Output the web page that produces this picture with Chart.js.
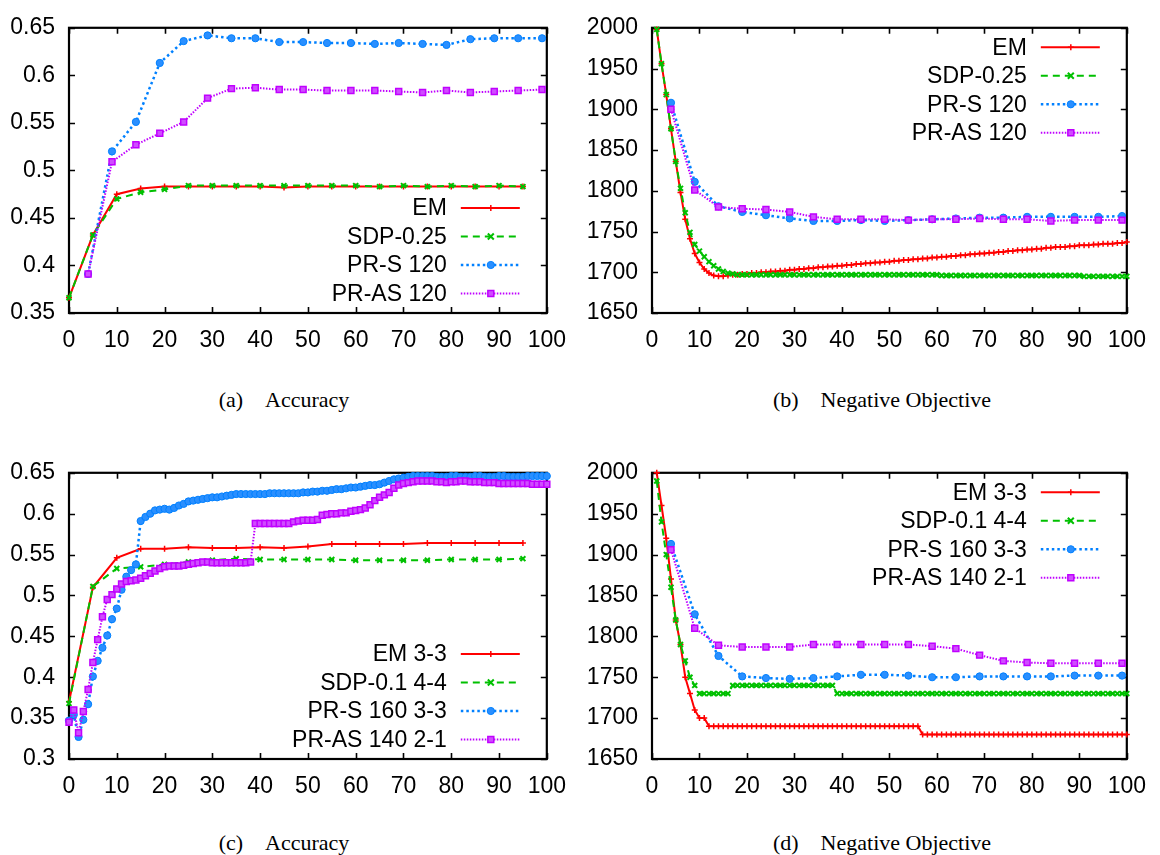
<!DOCTYPE html>
<html><head><meta charset="utf-8">
<script src="https://cdn.jsdelivr.net/npm/chart.js@4/dist/chart.umd.min.js"></script>
<style>
html,body{margin:0;padding:0;background:#fff;width:1160px;height:855px;overflow:hidden;}
.box{position:absolute;width:580px;height:380px;}
.cap{position:absolute;font-family:"Liberation Serif","Times New Roman",serif;font-size:22px;white-space:pre;transform:translate(-50%,-50%);color:#000;}
.cap span{margin-right:22px;}
</style></head><body>
<div class="box" style="left:0;top:0"><canvas id="ca" width="580" height="380"></canvas></div>
<div class="box" style="left:580px;top:0"><canvas id="cb" width="580" height="380"></canvas></div>
<div class="box" style="left:0;top:445px"><canvas id="cc" width="580" height="380"></canvas></div>
<div class="box" style="left:580px;top:445px"><canvas id="cd" width="580" height="380"></canvas></div>
<div class="cap" style="left:284px;top:400px"><span>(a)</span>Accuracy</div>
<div class="cap" style="left:882px;top:400px"><span>(b)</span>Negative Objective</div>
<div class="cap" style="left:284px;top:843px"><span>(c)</span>Accuracy</div>
<div class="cap" style="left:882px;top:843px"><span>(d)</span>Negative Objective</div>
<script>
// ---------- iteration positions ----------
const every5from0 = [0,5,10,15,20,25,30,35,40,45,50,55,60,65,70,75,80,85,90,95];
const every5from4 = [4,9,14,19,24,29,34,39,44,49,54,59,64,69,74,79,84,89,94,99];
const iters1to100 = [1,2,3,4,5,6,7,8,9,10,11,12,13,14,15,16,17,18,19,20,21,22,23,24,25,26,27,28,29,30,31,32,33,34,35,36,37,38,39,40,41,42,43,44,45,46,47,48,49,50,51,52,53,54,55,56,57,58,59,60,61,62,63,64,65,66,67,68,69,70,71,72,73,74,75,76,77,78,79,80,81,82,83,84,85,86,87,88,89,90,91,92,93,94,95,96,97,98,99,100];
const iters0to100 = [0,1,2,3,4,5,6,7,8,9,10,11,12,13,14,15,16,17,18,19,20,21,22,23,24,25,26,27,28,29,30,31,32,33,34,35,36,37,38,39,40,41,42,43,44,45,46,47,48,49,50,51,52,53,54,55,56,57,58,59,60,61,62,63,64,65,66,67,68,69,70,71,72,73,74,75,76,77,78,79,80,81,82,83,84,85,86,87,88,89,90,91,92,93,94,95,96,97,98,99,100];

// ---------- tick labels ----------
const xTicks = [0,10,20,30,40,50,60,70,80,90,100];
const yTicksAccA = [0.35,0.4,0.45,0.5,0.55,0.6,0.65];
const yTicksAccC = [0.3,0.35,0.4,0.45,0.5,0.55,0.6,0.65];
const yTicksObj = [1650,1700,1750,1800,1850,1900,1950,2000];

// ---------- panel (a) Accuracy ----------
const aEM   = [0.366,0.432,0.475,0.481,0.483,0.483,0.483,0.483,0.483,0.482,0.483,0.483,0.483,0.483,0.483,0.483,0.483,0.483,0.483,0.483];
const aSDP  = [0.366,0.432,0.470,0.477,0.480,0.484,0.484,0.484,0.484,0.484,0.484,0.484,0.484,0.483,0.484,0.483,0.484,0.483,0.484,0.483];
const aPRS  = [0.391,0.520,0.551,0.613,0.636,0.642,0.639,0.639,0.635,0.635,0.634,0.634,0.633,0.634,0.633,0.632,0.638,0.639,0.639,0.639];
const aPRAS = [0.391,0.509,0.527,0.539,0.551,0.576,0.586,0.587,0.585,0.585,0.584,0.584,0.584,0.583,0.582,0.584,0.582,0.583,0.584,0.585];

// ---------- panel (b) Negative Objective ----------
const bEM = [1998,1956,1918,1876,1836,1798,1765,1741,1723,1712,1704,1699,1696,1695,1695,1696,1697,1697,1698,1698,
  1699,1699,1700,1700,1701,1701,1702,1702,1703,1703,1704,1704,1705,1705,1706,1706,1707,1707,1708,1708,
  1709,1709,1710,1710,1711,1711,1712,1712,1713,1713,1714,1714,1715,1715,1716,1716,1717,1717,1718,1718,
  1719,1719,1720,1720,1721,1721,1722,1722,1723,1723,1724,1724,1725,1725,1726,1726,1727,1727,1728,1728,
  1729,1729,1730,1730,1731,1731,1731,1732,1732,1733,1733,1733,1734,1734,1735,1735,1735,1736,1736,1737];
const bSDP = [1998,1956,1918,1876,1836,1803,1773,1749,1734,1726,1719,1713,1708,1704,1701,1699,1698,1697,1697,1697,
  1697,1697,1697,1697,1697,1697,1697,1697,1697,1697,1697,1697,1697,1697,1697,1697,1697,1697,1697,1697,
  1697,1697,1697,1697,1697,1697,1697,1697,1697,1697,1697,1697,1697,1697,1697,1697,1697,1697,1697,1697,
  1696,1696,1696,1696,1696,1696,1696,1696,1696,1696,1696,1696,1696,1696,1696,1696,1696,1696,1696,1696,
  1696,1696,1696,1696,1696,1696,1696,1696,1696,1696,1695,1695,1695,1695,1695,1695,1695,1695,1695,1695];
const bPRS  = [1908,1811,1781,1774,1770,1766,1763,1763,1764,1763,1764,1765,1766,1767,1767,1768,1768,1768,1768,1769];
const bPRAS = [1900,1801,1780,1778,1777,1774,1768,1765,1765,1765,1764,1765,1765,1766,1765,1765,1763,1764,1764,1764];

// ---------- panel (c) Accuracy ----------
const cEM  = [0.370,0.510,0.546,0.557,0.557,0.559,0.558,0.558,0.559,0.558,0.560,0.563,0.563,0.563,0.563,0.564,0.564,0.564,0.564,0.564];
const cSDP = [0.368,0.511,0.533,0.535,0.538,0.541,0.543,0.545,0.544,0.544,0.544,0.544,0.543,0.543,0.543,0.543,0.544,0.544,0.544,0.545];
const cPRS = [0.347,0.354,0.327,0.348,0.367,0.401,0.420,0.436,0.451,0.471,
  0.484,0.507,0.523,0.531,0.538,0.591,0.596,0.600,0.604,0.605,
  0.606,0.605,0.607,0.610,0.612,0.615,0.616,0.617,0.618,0.619,
  0.620,0.620,0.621,0.622,0.623,0.624,0.624,0.624,0.624,0.624,
  0.624,0.624,0.625,0.625,0.625,0.625,0.625,0.625,0.625,0.626,
  0.626,0.627,0.627,0.628,0.628,0.629,0.630,0.630,0.631,0.632,
  0.632,0.633,0.634,0.635,0.635,0.636,0.638,0.640,0.642,0.643,
  0.644,0.645,0.646,0.646,0.646,0.646,0.646,0.645,0.645,0.645,
  0.646,0.646,0.645,0.645,0.645,0.646,0.646,0.645,0.645,0.645,
  0.646,0.646,0.645,0.645,0.645,0.645,0.646,0.646,0.646,0.646,0.646];
const cPRAS = [0.345,0.360,0.332,0.358,0.385,0.418,0.446,0.474,0.495,0.501,
  0.508,0.514,0.517,0.518,0.519,0.521,0.524,0.527,0.530,0.533,
  0.535,0.536,0.536,0.536,0.537,0.538,0.539,0.540,0.541,0.541,
  0.540,0.540,0.540,0.540,0.540,0.540,0.540,0.540,0.541,0.588,
  0.588,0.588,0.588,0.588,0.588,0.588,0.588,0.590,0.591,0.592,
  0.592,0.592,0.593,0.598,0.599,0.600,0.600,0.601,0.601,0.603,
  0.604,0.605,0.607,0.611,0.616,0.620,0.623,0.626,0.631,0.635,
  0.637,0.638,0.639,0.640,0.640,0.640,0.640,0.639,0.639,0.638,
  0.639,0.639,0.640,0.640,0.639,0.639,0.639,0.638,0.638,0.638,
  0.637,0.637,0.637,0.637,0.637,0.637,0.637,0.636,0.636,0.636,0.636];

// ---------- panel (d) Negative Objective ----------
const dEM = [2000,1960,1920,1870,1820,1790,1750,1730,1710,1700,1700,1690,1690,1690,1690,1690,1690,1690,1690,1690,
  1690,1690,1690,1690,1690,1690,1690,1690,1690,1690,1690,1690,1690,1690,1690,1690,1690,1690,1690,1690,
  1690,1690,1690,1690,1690,1690,1690,1690,1690,1690,1690,1690,1690,1690,1690,1690,1680,1680,1680,1680,
  1680,1680,1680,1680,1680,1680,1680,1680,1680,1680,1680,1680,1680,1680,1680,1680,1680,1680,1680,1680,
  1680,1680,1680,1680,1680,1680,1680,1680,1680,1680,1680,1680,1680,1680,1680,1680,1680,1680,1680,1680];
const dSDP = [1990,1940,1900,1860,1820,1790,1770,1750,1740,1730,1730,1730,1730,1730,1730,1730,1740,1740,1740,1740,
  1740,1740,1740,1740,1740,1740,1740,1740,1740,1740,1740,1740,1740,1740,1740,1740,1740,1740,1730,1730,
  1730,1730,1730,1730,1730,1730,1730,1730,1730,1730,1730,1730,1730,1730,1730,1730,1730,1730,1730,1730,
  1730,1730,1730,1730,1730,1730,1730,1730,1730,1730,1730,1730,1730,1730,1730,1730,1730,1730,1730,1730,
  1730,1730,1730,1730,1730,1730,1730,1730,1730,1730,1730,1730,1730,1730,1730,1730,1730,1730,1730,1730];
const dPRS  = [1913,1827,1776,1751,1749,1748,1749,1751,1753,1753,1752,1750,1750,1751,1751,1751,1751,1752,1752,1752];
const dPRAS = [1906,1810,1789,1787,1787,1787,1790,1790,1790,1790,1790,1788,1785,1777,1770,1768,1767,1767,1767,1767];

// ---------- styling ----------
const FONT = '"Liberation Sans", Arial, Helvetica, sans-serif';
const RED = '#ff0000', GREEN = '#00c000', BLUE = '#0080ff', PURPLE = '#c000ff';

function pts(xs, ys) { return xs.map((x, i) => ({x: x, y: ys[i]})); }

function styleEM(label, xs, ys) {
  return {label, data: pts(xs, ys), borderColor: RED, borderWidth: 2, pointStyle: 'cross',
    pointRadius: 3, pointBorderWidth: 1.5, pointBorderColor: RED, pointBackgroundColor: RED, order: 4};
}
function styleSDP(label, xs, ys) {
  return {label, data: pts(xs, ys), borderColor: GREEN, borderWidth: 2, borderDash: [7, 5], pointStyle: 'crossRot',
    pointRadius: 3.5, pointBorderWidth: 2, pointBorderColor: GREEN, pointBackgroundColor: GREEN, order: 3};
}
function stylePRS(label, xs, ys) {
  return {label, data: pts(xs, ys), borderColor: BLUE, borderWidth: 2.5, borderDash: [2.5, 3], pointStyle: 'circle',
    pointRadius: 3.6, pointBorderWidth: 1, pointBorderColor: BLUE, pointBackgroundColor: '#2a8fff', order: 2};
}
function stylePRAS(label, xs, ys) {
  return {label, data: pts(xs, ys), borderColor: PURPLE, borderWidth: 2, borderDash: [1.5, 1.5], pointStyle: 'rect',
    pointRadius: 4.2, pointBorderWidth: 1.5, pointBorderColor: PURPLE, pointBackgroundColor: '#cf4dff', order: 1};
}

function drawMarker(ctx, style, r, x, y) {
  ctx.beginPath();
  if (style === 'cross') {
    ctx.moveTo(x - r, y); ctx.lineTo(x + r, y); ctx.moveTo(x, y - r); ctx.lineTo(x, y + r); ctx.stroke();
  } else if (style === 'crossRot') {
    const d = r * 0.85;
    ctx.moveTo(x - d, y - d); ctx.lineTo(x + d, y + d); ctx.moveTo(x + d, y - d); ctx.lineTo(x - d, y + d); ctx.stroke();
  } else if (style === 'circle') {
    ctx.arc(x, y, r, 0, Math.PI * 2); ctx.fill(); ctx.stroke();
  } else if (style === 'rect') {
    const s = r * Math.SQRT1_2;
    ctx.rect(x - s, y - s, 2 * s, 2 * s); ctx.fill(); ctx.stroke();
  }
}

const framePlugin = {
  id: 'gpFrame',
  beforeDatasetsDraw(chart) {
    const {ctx, chartArea: a} = chart;
    const xs = chart.scales.x, ys = chart.scales.y;
    const L = 6;
    ctx.save();
    ctx.strokeStyle = '#000';
    ctx.lineWidth = 1.6;
    ctx.beginPath();
    xs.ticks.forEach(t => {
      const p = Math.round(xs.getPixelForValue(t.value)) + 0.5;
      ctx.moveTo(p, a.bottom); ctx.lineTo(p, a.bottom - L);
      ctx.moveTo(p, a.top); ctx.lineTo(p, a.top + L);
    });
    ys.ticks.forEach(t => {
      const p = Math.round(ys.getPixelForValue(t.value)) + 0.5;
      ctx.moveTo(a.left, p); ctx.lineTo(a.left + L, p);
      ctx.moveTo(a.right, p); ctx.lineTo(a.right - L, p);
    });
    ctx.stroke();
    ctx.lineWidth = 2.2;
    ctx.strokeRect(a.left, a.top, a.right - a.left, a.bottom - a.top);
    ctx.restore();
  }
};

const legendPlugin = {
  id: 'gpLegend',
  afterDraw(chart, args, opts) {
    const {ctx, chartArea: a} = chart;
    const dss = chart.data.datasets;
    const rowH = 28.5;
    const first = opts.corner === 'tr' ? a.top + 19.5 : a.bottom - 19.5 - (dss.length - 1) * rowH;
    ctx.save();
    dss.forEach((ds, i) => {
      const yy = first + i * rowH;
      ctx.font = '23px ' + FONT;
      ctx.textAlign = 'right';
      ctx.textBaseline = 'middle';
      ctx.fillStyle = '#000';
      ctx.fillText(ds.label, a.right - 100, yy + 1);
      ctx.setLineDash(ds.borderDash || []);
      ctx.lineWidth = ds.borderWidth;
      ctx.strokeStyle = ds.borderColor;
      ctx.beginPath(); ctx.moveTo(a.right - 86, yy); ctx.lineTo(a.right - 27, yy); ctx.stroke();
      ctx.setLineDash([]);
      ctx.fillStyle = ds.pointBackgroundColor;
      ctx.strokeStyle = ds.pointBorderColor;
      ctx.lineWidth = ds.pointBorderWidth;
      drawMarker(ctx, ds.pointStyle, ds.pointRadius, a.right - 56, yy);
    });
    ctx.restore();
  }
};

function fmt(v) { return String(+Number(v).toFixed(2)); }

function makeChart(id, datasets, yMin, yMax, yTickVals, yWidth, padRight, xHeight, corner) {
  return new Chart(document.getElementById(id), {
    type: 'line',
    data: {datasets: datasets.map(d => Object.assign({fill: false, tension: 0, clip: false, spanGaps: true}, d))},
    options: {
      responsive: false, animation: false, devicePixelRatio: 1,
      layout: {padding: {top: 23, right: padRight, left: 0, bottom: 0}},
      plugins: {legend: {display: false}, tooltip: {enabled: false}, gpLegend: {corner: corner}},
      elements: {line: {borderCapStyle: 'butt', borderJoinStyle: 'miter'}},
      scales: {
        x: {type: 'linear', min: 0, max: 100,
          afterBuildTicks: s => { s.ticks = xTicks.map(v => ({value: v})); },
          afterFit: s => { s.height = xHeight; },
          grid: {display: false, drawTicks: false}, border: {display: false},
          ticks: {autoSkip: false, maxRotation: 0, padding: 14, color: '#000', font: {family: FONT, size: 23},
            callback: v => String(v)}},
        y: {type: 'linear', min: yMin, max: yMax,
          afterBuildTicks: s => { s.ticks = yTickVals.map(v => ({value: v})); },
          afterFit: s => { s.width = yWidth; },
          grid: {display: false, drawTicks: false}, border: {display: false},
          ticks: {autoSkip: false, padding: 14, color: '#000', font: {family: FONT, size: 23}, callback: v => fmt(v)}}
      }
    },
    plugins: [framePlugin, legendPlugin]
  });
}

makeChart('ca', [
  styleEM('EM', every5from0, aEM),
  styleSDP('SDP-0.25', every5from0, aSDP),
  stylePRS('PR-S 120', every5from4, aPRS),
  stylePRAS('PR-AS 120', every5from4, aPRAS)
], 0.35, 0.65, yTicksAccA, 69, 28, 67, 'br');

makeChart('cb', [
  styleEM('EM', iters1to100, bEM),
  styleSDP('SDP-0.25', iters1to100, bSDP),
  stylePRS('PR-S 120', every5from4, bPRS),
  stylePRAS('PR-AS 120', every5from4, bPRAS)
], 1650, 2000, yTicksObj, 72, 25, 67, 'tr');

makeChart('cc', [
  styleEM('EM 3-3', every5from0, cEM),
  styleSDP('SDP-0.1 4-4', every5from0, cSDP),
  stylePRS('PR-S 160 3-3', iters0to100, cPRS),
  stylePRAS('PR-AS 140 2-1', iters0to100, cPRAS)
], 0.3, 0.65, yTicksAccC, 69, 28, 66, 'br');

makeChart('cd', [
  styleEM('EM 3-3', iters1to100, dEM),
  styleSDP('SDP-0.1 4-4', iters1to100, dSDP),
  stylePRS('PR-S 160 3-3', every5from4, dPRS),
  stylePRAS('PR-AS 140 2-1', every5from4, dPRAS)
], 1650, 2000, yTicksObj, 72, 25, 66, 'tr');
</script>
</body></html>
